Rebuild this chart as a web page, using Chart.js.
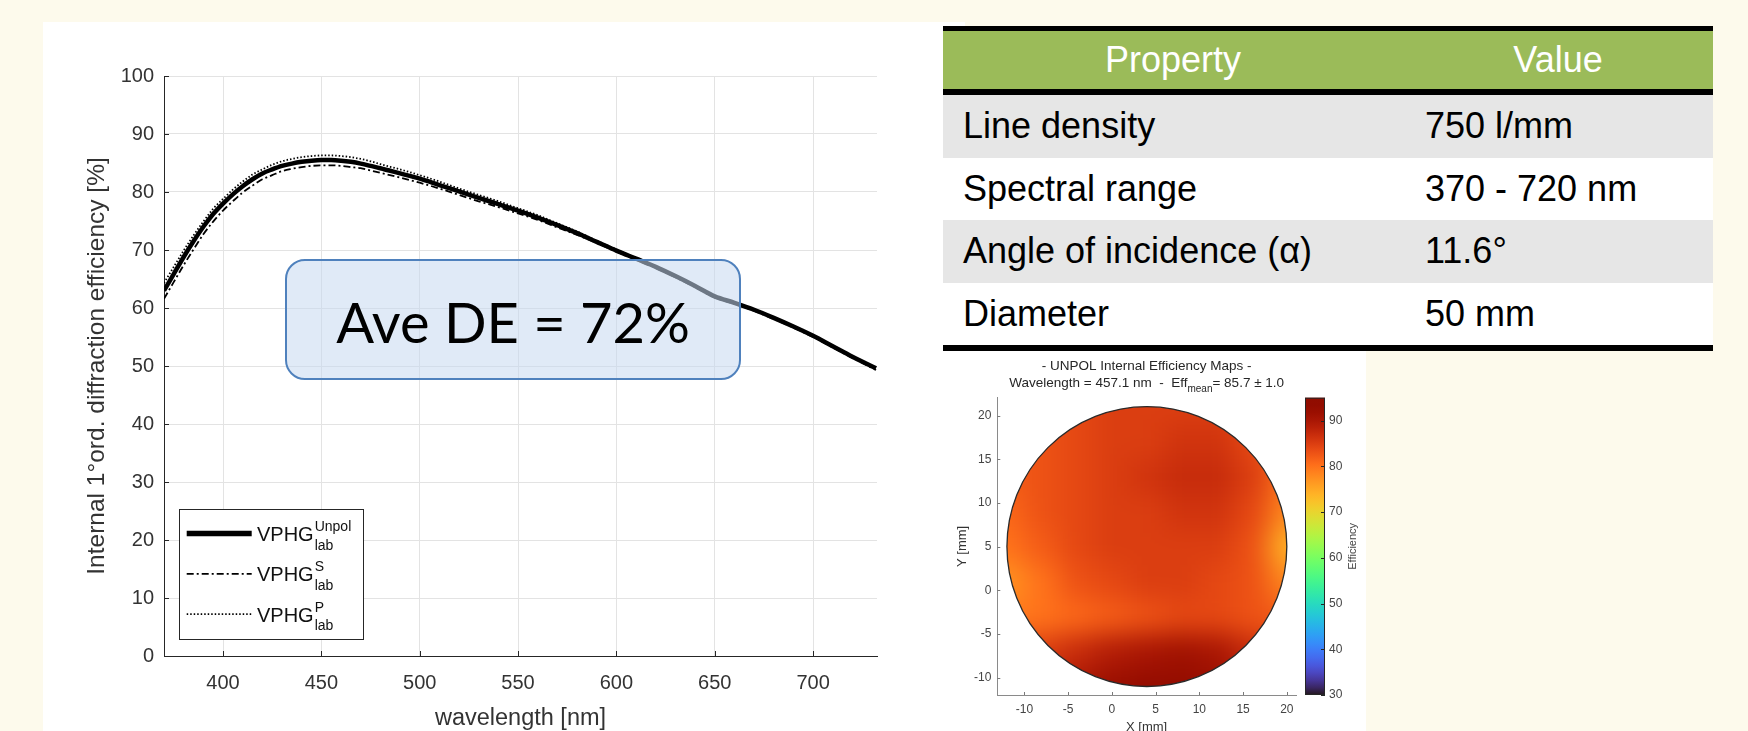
<!DOCTYPE html>
<html lang="en">
<head>
<meta charset="utf-8">
<title>VPHG diffraction efficiency</title>
<script src="https://cdn.jsdelivr.net/npm/chart.js@4.4.1/dist/chart.umd.min.js"></script>
<style>
  html, body { margin: 0; padding: 0; }
  body { width: 1748px; height: 731px; position: relative; overflow: hidden; background: #FDFAEC; font-family: "Liberation Sans", Arial, sans-serif; }
  .sheet { position: absolute; background: #ffffff; }
  canvas { position: absolute; }
  #deChart { left: 43px; top: 22px; }
  #mapChart { left: 934px; top: 352px; filter: blur(0.5px); }
  #aveBox { position: absolute; left: 285px; top: 259px; width: 456px; height: 121px; box-sizing: border-box;
            border: 2px solid #4F81BD; border-radius: 20px; background: rgba(198, 217, 241, 0.55);
            display: flex; align-items: center; justify-content: center; padding-top: 4px;
            font-family: Lato, "Open Sans", sans-serif; font-size: 56px; letter-spacing: 0px; color: #000; }
  #props { position: absolute; left: 943px; top: 26px; width: 770px; }
  .rule { background: #000; }
  .row { display: flex; align-items: center; height: 62.5px; font-size: 36px; color: #000; background: #ffffff; }
  .row.head { height: 58px; background: #9BBB59; color: #fff; }
  .row.shade { background: #E6E6E6; }
  .c1 { width: 460px; box-sizing: border-box; padding-left: 20px; white-space: nowrap; }
  .c2 { width: 310px; box-sizing: border-box; padding-left: 22px; white-space: nowrap; }
  .head .c1, .head .c2 { text-align: center; padding-left: 0; }
</style>
</head>
<body>
<div class="sheet" style="left:43px;top:22px;width:922px;height:709px"></div>
<div class="sheet" style="left:965px;top:26px;width:401px;height:705px"></div>
<canvas id="deChart" width="857" height="709"></canvas>
<div id="aveBox">Ave DE = 72%</div>
<div id="props"></div>
<canvas id="mapChart" width="432" height="385"></canvas>
<script>
// ---- Diffraction efficiency vs wavelength ----
const wavelengthNm = [370,375,380,385,390,395,400,405,410,415,420,425,430,435,440,445,450,455,460,465,470,475,480,490,500,510,520,530,540,550,560,570,580,590,600,610,620,630,640,650,660,670,680,690,700,710,720,732];
const effUnpol = [63.0,65.9,68.8,71.5,74.0,76.2,78.0,79.6,81.0,82.2,83.2,83.9,84.5,84.9,85.2,85.4,85.5,85.5,85.4,85.2,84.9,84.5,84.1,83.2,82.3,81.2,80.1,79.0,77.9,76.8,75.6,74.3,72.9,71.4,69.9,68.5,67.1,65.5,63.8,62.0,60.9,59.7,58.3,56.8,55.2,53.4,51.6,49.6];
const effS = [61.6,64.5,67.4,70.1,72.7,74.9,76.8,78.4,79.9,81.1,82.2,82.9,83.6,84.0,84.3,84.5,84.6,84.6,84.5,84.3,84.1,83.7,83.3,82.5,81.6,80.6,79.5,78.4,77.4,76.3,75.2,73.9,72.6,71.2,69.7,68.3,66.9,65.3,63.6,61.8,60.7,59.5,58.1,56.6,55.0,53.2,51.4,49.3];
const effP = [64.3,67.1,69.9,72.5,74.9,77.1,78.8,80.4,81.8,83.0,83.9,84.7,85.3,85.7,86.0,86.2,86.3,86.3,86.2,86.0,85.7,85.3,84.8,83.9,82.9,81.8,80.6,79.5,78.4,77.2,76.0,74.6,73.2,71.6,70.1,68.6,67.2,65.6,63.9,62.1,61.0,59.8,58.4,56.9,55.3,53.5,51.7,49.7];
const wavelengthTicks = [400,450,500,550,600,650,700];
const efficiencyTicks = [0,10,20,30,40,50,60,70,80,90,100];
const seriesBase = 'VPHG';
const seriesSup = ['Unpol','S','P'];
const seriesSub = 'lab';

// ---- Efficiency map over the grating aperture (values in %) ----
const mapX = [-12,-8,-4,0,4,8,12,16,20];
const mapY = [21,17,13,9,5,1,-3,-7,-11];
const mapEfficiency = [
  [83,83,84,85,85,85,85,84,82],
  [82,83,84,85,85,86,86,84,81],
  [82,83,84,85,86,87,87,85,80],
  [81,83,84,85,85,86,86,84,78],
  [80,82,84,85,85,85,85,83,74],
  [77,80,83,84,85,85,84,83,78],
  [79,80,81,82,83,84,84,83,82],
  [84,85,87,89,90,91,90,87,84],
  [86,88,90,92,93,93,92,89,86]
];
const waferCenter = [4, 5];
const waferRadius = 16;
const mapTicks = [-10,-5,0,5,10,15,20];
const colorbarTicks = [30,40,50,60,70,80,90];
const colorbarRange = [30, 95];
const mapTitleTop = '- UNPOL Internal Efficiency Maps -';
const mapTitleParts = ['Wavelength = 457.1 nm  -  Eff', 'mean', '= 85.7 \u00b1 1.0'];

// ---- Grating properties ----
const tableHeaders = ['Property', 'Value'];
const propertyNames = ['Line density', 'Spectral range', 'Angle of incidence (\u03b1)', 'Diameter'];
const propertyValues = ['750 l/mm', '370 - 720 nm', '11.6\u00b0', '50 mm'];

const FONT = '"Liberation Sans", Arial, sans-serif';
const INK = '#262626';

// property table
(function buildTable() {
  const host = document.getElementById('props');
  const add = (cls, h) => { const d = document.createElement('div'); d.className = cls; if (h) d.style.height = h + 'px'; host.appendChild(d); return d; };
  add('rule', 5);
  const head = add('row head');
  tableHeaders.forEach((t, i) => { const c = document.createElement('div'); c.className = i ? 'c2' : 'c1'; c.textContent = t; head.appendChild(c); });
  add('rule', 6);
  propertyNames.forEach((name, r) => {
    const row = add('row' + (r % 2 === 0 ? ' shade' : ''));
    [name, propertyValues[r]].forEach((t, i) => { const c = document.createElement('div'); c.className = i ? 'c2' : 'c1'; c.textContent = t; row.appendChild(c); });
  });
  add('rule', 6);
})();

// turbo colormap (polynomial fit)
function turbo(t) {
  const x = Math.min(1, Math.max(0, t));
  const r = 0.13572138 + x*(4.61539260 + x*(-42.66032258 + x*(132.13108234 + x*(-152.94239396 + x*59.28637943))));
  const g = 0.09140261 + x*(2.19418839 + x*(4.84296658 + x*(-14.18503333 + x*(4.27729857 + x*2.82956604))));
  const b = 0.10667330 + x*(12.64194608 + x*(-60.58204836 + x*(110.36276771 + x*(-89.90310912 + x*27.34824973))));
  const c = v => Math.round(255 * Math.min(1, Math.max(0, v)));
  return `rgb(${c(r)},${c(g)},${c(b)})`;
}

// short tick marks pointing into the plot area
const innerTicks = {
  id: 'innerTicks',
  afterDatasetsDraw(chart, args, o) {
    const { ctx, chartArea: a } = chart;
    const xs = chart.scales.x, ys = chart.scales.y;
    ctx.save();
    ctx.strokeStyle = o.color; ctx.lineWidth = 1;
    ctx.beginPath();
    xs.ticks.forEach(t => { const p = Math.round(xs.getPixelForValue(t.value)) + 0.5; ctx.moveTo(p, a.bottom); ctx.lineTo(p, a.bottom - o.len); });
    ys.ticks.forEach(t => { const p = Math.round(ys.getPixelForValue(t.value)) + 0.5; ctx.moveTo(a.left, p); ctx.lineTo(a.left + o.len, p); });
    ctx.stroke();
    ctx.restore();
  }
};

// boxed legend with super/subscripted series names
const stackedLegend = {
  id: 'stackedLegend',
  afterDatasetsDraw(chart, args, o) {
    const ctx = chart.ctx;
    ctx.save();
    ctx.fillStyle = '#fff';
    ctx.fillRect(o.left, o.top, o.width, o.height);
    ctx.strokeStyle = o.frame; ctx.lineWidth = 1;
    ctx.strokeRect(Math.round(o.left) + 0.5, Math.round(o.top) + 0.5, o.width, o.height);
    chart.data.datasets.forEach((ds, i) => {
      const base = o.top + o.firstBaseline + i * o.rowGap;
      const ly = base - 7.5;
      ctx.setLineDash(ds.borderDash || []);
      ctx.lineWidth = i === 0 ? ds.borderWidth + 1 : ds.borderWidth; ctx.strokeStyle = ds.borderColor;
      ctx.beginPath(); ctx.moveTo(o.left + 7.4, ly); ctx.lineTo(o.left + 72.4, ly); ctx.stroke();
      ctx.setLineDash([]);
      ctx.fillStyle = '#111'; ctx.textAlign = 'left'; ctx.textBaseline = 'alphabetic';
      ctx.font = `20px ${FONT}`;
      const tx = o.left + 77.7;
      ctx.fillText(seriesBase, tx, base);
      const w = ctx.measureText(seriesBase).width;
      ctx.font = `14px ${FONT}`;
      ctx.fillText(seriesSup[i], tx + w + 1, base - 10);
      ctx.fillText(seriesSub, tx + w + 1, base + 8.5);
    });
    ctx.restore();
  }
};

const pts = ys => wavelengthNm.map((w, i) => ({ x: w, y: ys[i] }));

new Chart(document.getElementById('deChart'), {
  type: 'line',
  data: {
    datasets: [
      { label: 'Unpol', data: pts(effUnpol), borderColor: '#000', borderWidth: 4.5, borderDash: [] },
      { label: 'S', data: pts(effS), borderColor: '#000', borderWidth: 1.8, borderDash: [7, 3, 2, 3] },
      { label: 'P', data: pts(effP), borderColor: '#000', borderWidth: 1.8, borderDash: [1.5, 2] }
    ]
  },
  options: {
    responsive: false, animation: false, devicePixelRatio: 1,
    layout: { padding: { left: 0, right: 23, top: 54, bottom: 0 } },
    elements: { point: { radius: 0 }, line: { cubicInterpolationMode: 'monotone', fill: false } },
    plugins: {
      legend: { display: false }, tooltip: { enabled: false },
      innerTicks: { color: INK, len: 5 },
      stackedLegend: { left: 136.3, top: 487.3, width: 184, height: 130, firstBaseline: 31.7, rowGap: 40.3, frame: INK }
    },
    scales: {
      x: {
        type: 'linear', min: 370, max: 732.5,
        afterBuildTicks: s => { s.ticks = wavelengthTicks.map(v => ({ value: v })); },
        afterFit: s => { s.height = 75; },
        grid: { color: '#E3E3E3', drawTicks: false },
        border: { color: INK },
        ticks: { color: '#333', font: { size: 20, family: FONT }, padding: 15, maxRotation: 0, autoSkip: false },
        title: { display: true, text: 'wavelength [nm]', color: '#333', font: { size: 23.5, family: FONT }, padding: { top: 0, bottom: -2 } }
      },
      y: {
        min: 0, max: 100,
        afterBuildTicks: s => { s.ticks = efficiencyTicks.map(v => ({ value: v })); },
        afterFit: s => { s.width = 121; },
        grid: { color: '#E3E3E3', drawTicks: false },
        border: { color: INK },
        ticks: { color: '#333', font: { size: 20, family: FONT }, padding: 10, autoSkip: false },
        title: { display: true, text: 'Internal 1\u00b0ord. diffraction efficiency [%]', color: '#333', font: { size: 24.5, family: FONT }, padding: { top: 40, bottom: 0 } }
      }
    }
  },
  plugins: [innerTicks, stackedLegend]
});

// aperture map: cells coloured by efficiency, softened and clipped to the wafer outline
const waferMap = {
  id: 'waferMap',
  beforeDatasetsDraw(chart, args, o) {
    const { ctx } = chart;
    const xs = chart.scales.x, ys = chart.scales.y;
    const off = document.createElement('canvas');
    off.width = chart.width; off.height = chart.height;
    const oc = off.getContext('2d');
    const last = mapEfficiency.length - 1;
    mapEfficiency.forEach((row, i) => row.forEach((v, j) => {
      const x0 = xs.getPixelForValue(mapX[j] - (j === 0 ? 10 : 2));
      const x1 = xs.getPixelForValue(mapX[j] + (j === row.length - 1 ? 10 : 2));
      const y0 = ys.getPixelForValue(mapY[i] + (i === 0 ? 10 : 2));
      const y1 = ys.getPixelForValue(mapY[i] - (i === last ? 10 : 2));
      oc.fillStyle = turbo((v - colorbarRange[0]) / (colorbarRange[1] - colorbarRange[0]));
      oc.fillRect(x0, y0, x1 - x0 + 0.5, y1 - y0 + 0.5);
    }));
    const cx = xs.getPixelForValue(waferCenter[0]);
    const cy = ys.getPixelForValue(waferCenter[1]);
    const r = xs.getPixelForValue(waferCenter[0] + waferRadius) - cx;
    ctx.save();
    ctx.beginPath(); ctx.arc(cx, cy, r, 0, Math.PI * 2); ctx.clip();
    ctx.filter = `blur(${o.blur}px)`;
    ctx.drawImage(off, 0, 0);
    ctx.restore();
    ctx.save();
    ctx.beginPath(); ctx.arc(cx, cy, r, 0, Math.PI * 2);
    ctx.strokeStyle = '#2a2a2a'; ctx.lineWidth = 1.3; ctx.stroke();
    ctx.restore();
  }
};

const colorBar = {
  id: 'colorBar',
  afterDraw(chart, args, o) {
    const s = chart.scales.cb; const ctx = chart.ctx;
    const x0 = s.left + o.gap, w = o.width;
    const yTop = s.getPixelForValue(s.max), yBot = s.getPixelForValue(s.min);
    const g = ctx.createLinearGradient(0, yBot, 0, yTop);
    for (let k = 0; k <= 40; k++) g.addColorStop(k / 40, turbo(k / 40));
    ctx.save();
    ctx.fillStyle = g;
    ctx.fillRect(x0, yTop, w, yBot - yTop);
    ctx.strokeStyle = INK; ctx.lineWidth = 1;
    ctx.strokeRect(x0 + 0.5, yTop + 0.5, w - 1, yBot - yTop - 1);
    ctx.beginPath();
    s.ticks.forEach(t => { const y = Math.round(s.getPixelForValue(t.value)) + 0.5; ctx.moveTo(x0 + w - 4, y); ctx.lineTo(x0 + w, y); });
    ctx.stroke();
    ctx.translate(s.left + o.labelOffset, (yTop + yBot) / 2);
    ctx.rotate(-Math.PI / 2);
    ctx.fillStyle = '#444'; ctx.font = `11px ${FONT}`; ctx.textAlign = 'center'; ctx.textBaseline = 'middle';
    ctx.fillText('Efficiency', 0, 0);
    ctx.restore();
  }
};

const mapTitle = {
  id: 'mapTitle',
  afterDraw(chart, args, o) {
    const ctx = chart.ctx; const a = chart.chartArea;
    const cx = (a.left + a.right) / 2;
    ctx.save();
    ctx.fillStyle = o.color; ctx.textBaseline = 'alphabetic';
    ctx.font = `${o.size}px ${FONT}`; ctx.textAlign = 'center';
    ctx.fillText(mapTitleTop, cx, o.base1);
    ctx.textAlign = 'left';
    const [pre, sub, post] = mapTitleParts;
    const w1 = ctx.measureText(pre).width, w3 = ctx.measureText(post).width;
    ctx.font = `${o.subSize}px ${FONT}`;
    const w2 = ctx.measureText(sub).width;
    let x = cx - (w1 + w2 + w3) / 2;
    ctx.font = `${o.size}px ${FONT}`;
    ctx.fillText(pre, x, o.base2); x += w1;
    ctx.font = `${o.subSize}px ${FONT}`;
    ctx.fillText(sub, x, o.base2 + 5); x += w2;
    ctx.font = `${o.size}px ${FONT}`;
    ctx.fillText(post, x, o.base2);
    ctx.restore();
  }
};

const mapTickFont = { size: 12, family: FONT };
new Chart(document.getElementById('mapChart'), {
  type: 'scatter',
  data: { datasets: [] },
  options: {
    responsive: false, animation: false, devicePixelRatio: 1,
    layout: { padding: { left: 0, right: 0, top: 45.7, bottom: 0 } },
    plugins: {
      legend: { display: false }, tooltip: { enabled: false },
      innerTicks: { color: '#7a7a7a', len: 3 },
      waferMap: { blur: 13 },
      colorBar: { gap: 9, width: 20, labelOffset: 57 },
      mapTitle: { color: '#262626', size: 13.5, subSize: 10, base1: 18, base2: 35 }
    },
    scales: {
      x: {
        type: 'linear', min: -13.1, max: 21.05,
        afterBuildTicks: s => { s.ticks = mapTicks.map(v => ({ value: v })); },
        afterFit: s => { s.height = 42; },
        grid: { display: false, drawTicks: false },
        border: { color: '#8a8a8a' },
        ticks: { color: '#444', font: mapTickFont, padding: 7, maxRotation: 0, autoSkip: false },
        title: { display: true, text: 'X [mm]', color: '#333', font: { size: 13, family: FONT }, padding: { top: 0, bottom: 2 } }
      },
      y: {
        type: 'linear', min: -12, max: 22.05,
        afterBuildTicks: s => { s.ticks = mapTicks.map(v => ({ value: v })); },
        afterFit: s => { s.width = 63.3; },
        grid: { display: false, drawTicks: false },
        border: { color: '#8a8a8a' },
        ticks: { color: '#444', font: mapTickFont, padding: 6, autoSkip: false },
        title: { display: true, text: 'Y [mm]', color: '#333', font: { size: 13, family: FONT }, padding: { top: 21, bottom: 0 } }
      },
      cb: {
        type: 'linear', position: 'right', min: colorbarRange[0], max: colorbarRange[1],
        afterBuildTicks: s => { s.ticks = colorbarTicks.map(v => ({ value: v })); },
        afterFit: s => { s.width = 70; },
        grid: { display: false, drawTicks: false },
        border: { display: false },
        ticks: { color: '#444', font: mapTickFont, padding: 33, autoSkip: false }
      }
    }
  },
  plugins: [waferMap, innerTicks, colorBar, mapTitle]
});
</script>
</body>
</html>
